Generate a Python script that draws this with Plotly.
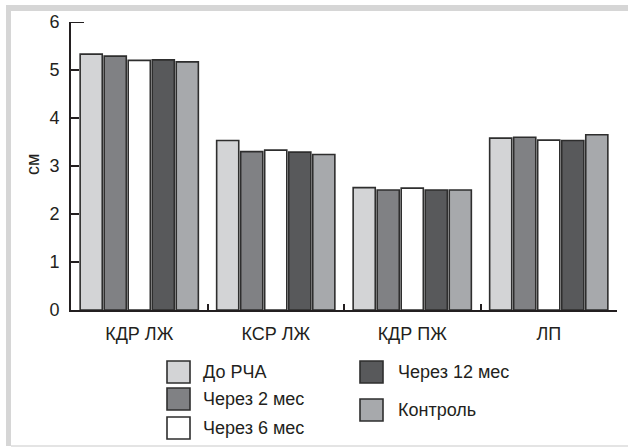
import plotly.graph_objects as go

categories = ["КДР ЛЖ", "КСР ЛЖ", "КДР ПЖ", "ЛП"]
series_names = ["До РЧА", "Через 2 мес", "Через 6 мес", "Через 12 мес", "Контроль"]
do_rcha = [5.33, 3.53, 2.55, 3.58]
cherez_2 = [5.29, 3.30, 2.50, 3.60]
cherez_6 = [5.20, 3.33, 2.54, 3.54]
cherez_12 = [5.21, 3.29, 2.50, 3.53]
kontrol = [5.17, 3.24, 2.50, 3.65]
series_values = [do_rcha, cherez_2, cherez_6, cherez_12, kontrol]
colors = ["#d3d4d6", "#808184", "#ffffff", "#58595b", "#a7a9ac"]
y_ticks = [0, 1, 2, 3, 4, 5, 6]

W, H = 628, 447
L, R, T, B = 71, 617, 22, 310
FONT = "Liberation Sans, Arial, sans-serif"
TXT = "#231f20"


def px(x):
    return (x - L) / (R - L)


def py(y):
    return (B - y) / (B - T)


fig = go.Figure()
for name, vals, col in zip(series_names, series_values, colors):
    fig.add_trace(go.Bar(
        x=categories, y=vals, name=name, showlegend=False,
        marker=dict(color=col, line=dict(color="#2e2e2e", width=1.6)),
    ))

shapes = []
# frame
shapes.append(dict(type="rect", xref="paper", yref="paper", x0=px(6), x1=px(628), y0=py(5), y1=py(11),
                   fillcolor="#d6d6d6", line=dict(width=0)))
shapes.append(dict(type="rect", xref="paper", yref="paper", x0=px(6), x1=px(11), y0=py(5), y1=py(446),
                   fillcolor="#d6d6d6", line=dict(width=0)))
shapes.append(dict(type="rect", xref="paper", yref="paper", x0=px(11), x1=px(628), y0=py(445), y1=py(447),
                   fillcolor="#e4e4e4", line=dict(width=0)))
# top cap at 6
shapes.append(dict(type="line", xref="paper", yref="y", x0=0, x1=px(84), y0=6, y1=6,
                   line=dict(color=TXT, width=2)))

annotations = []
# manual legend
legend_pos = [
    (167, 361, 201), (167, 388, 201), (167, 417, 201),
    (360, 361, 396), (360, 399, 396),
]
for (bx, by, tx), name, col in zip(legend_pos, series_names, colors):
    shapes.append(dict(type="rect", xref="paper", yref="paper",
                       x0=px(bx), x1=px(bx + 23), y0=py(by), y1=py(by + 22),
                       fillcolor=col, line=dict(color="#2e2e2e", width=1.6)))
    annotations.append(dict(xref="paper", yref="paper", x=px(tx), y=py(by + 11),
                            text=name, showarrow=False, xanchor="left", yanchor="middle",
                            font=dict(family=FONT, size=18, color=TXT)))

# y-axis title placed as text
annotations.append(dict(xref="paper", yref="paper", x=px(33), y=py(165), text="см",
                        textangle=-90, showarrow=False, xanchor="center", yanchor="middle",
                        font=dict(family=FONT, size=18, color=TXT)))

fig.update_layout(
    width=W, height=H,
    margin=dict(l=L, r=W - R, t=T, b=H - B, pad=0, autoexpand=False),
    paper_bgcolor="white", plot_bgcolor="white",
    barmode="group", bargap=0.12, bargroupgap=0.08,
    font=dict(family=FONT, size=18, color=TXT),
    shapes=shapes, annotations=annotations,
    showlegend=False,
)
fig.update_yaxes(
    range=[0, 6], tickvals=y_ticks, showgrid=False, zeroline=False, automargin=False,
    showline=True, linecolor=TXT, linewidth=2,
    ticks="inside", ticklen=8, tickwidth=1.5, tickcolor=TXT,
    tickfont=dict(family=FONT, size=18, color=TXT), ticklabelstandoff=6,
)
fig.update_xaxes(
    showgrid=False, showline=True, linecolor=TXT, linewidth=2, automargin=False,
    ticks="inside", tickson="boundaries", ticklen=6, tickwidth=1.5, tickcolor=TXT,
    tickfont=dict(family=FONT, size=18, color=TXT), ticklabelstandoff=6,
)

fig.write_html("out.html", config={"displayModeBar": False},
               post_script="document.body.style.margin='0';document.body.style.overflow='hidden';")
